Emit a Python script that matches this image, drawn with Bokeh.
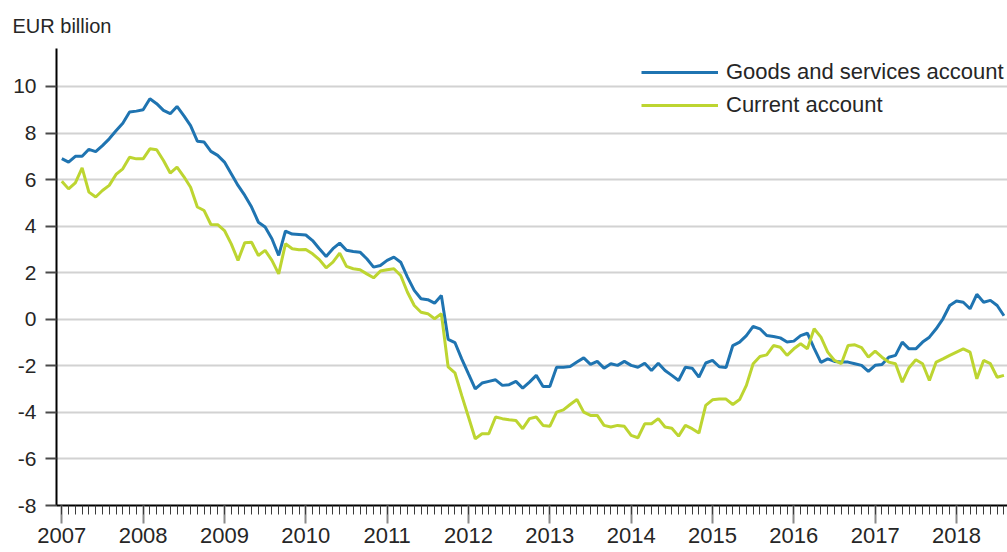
from bokeh.plotting import figure
from bokeh.models import FixedTicker, Legend, LegendItem, Range1d
from bokeh.embed import file_html
from bokeh.resources import INLINE

# ---- data (monthly, Jan 2007 .. Aug 2018), EUR billion, 12-month moving sums ----
start_year = 2007
goods_services = [
    6.9, 6.75, 7.0, 7.0, 7.3, 7.2, 7.46, 7.75, 8.1, 8.42, 8.9, 8.94,
    9.0, 9.47, 9.26, 8.97, 8.83, 9.14, 8.75, 8.32, 7.65, 7.61, 7.21, 7.04,
    6.75, 6.25, 5.75, 5.32, 4.82, 4.17, 3.96, 3.46, 2.74, 3.79, 3.66, 3.64,
    3.62, 3.38, 3.03, 2.7, 3.03, 3.27, 2.96, 2.91, 2.88, 2.6, 2.24, 2.31,
    2.53, 2.67, 2.45, 1.81, 1.24, 0.88, 0.84, 0.69, 1.02, -0.86, -1.0, -1.7,
    -2.35, -2.99, -2.74, -2.67, -2.6, -2.84, -2.81, -2.67, -2.96, -2.7, -2.41, -2.89,
    -2.89, -2.06, -2.06, -2.03, -1.84, -1.66, -1.94, -1.81, -2.1, -1.91, -1.98, -1.81,
    -1.98, -2.06, -1.89, -2.2, -1.89, -2.2, -2.41, -2.63, -2.06, -2.1, -2.49, -1.88,
    -1.77, -2.04, -2.07, -1.13, -0.98, -0.7, -0.31, -0.41, -0.7, -0.74, -0.8, -0.98,
    -0.94, -0.7, -0.6, -1.25, -1.85, -1.7, -1.81, -1.84, -1.84, -1.91, -1.98, -2.24,
    -1.98, -1.94, -1.63, -1.55, -0.98, -1.27, -1.27, -0.98, -0.77, -0.41, 0.02, 0.59,
    0.78, 0.73, 0.45, 1.07, 0.73, 0.81, 0.59, 0.15,
]
current_account = [
    5.93, 5.6, 5.86, 6.5, 5.46, 5.25, 5.53, 5.75, 6.22, 6.46, 6.96, 6.89,
    6.89, 7.32, 7.28, 6.82, 6.28, 6.53, 6.13, 5.67, 4.82, 4.67, 4.07, 4.06,
    3.81, 3.24, 2.53, 3.29, 3.31, 2.74, 2.96, 2.53, 1.95, 3.24, 3.03, 2.99,
    3.0, 2.81, 2.56, 2.21, 2.45, 2.84, 2.27, 2.17, 2.13, 1.95, 1.78, 2.07,
    2.13, 2.17, 1.88, 1.16, 0.59, 0.3, 0.24, 0.02, 0.24, -2.05, -2.3, -3.27,
    -4.2, -5.13, -4.92, -4.92, -4.2, -4.27, -4.32, -4.35, -4.7, -4.27, -4.2, -4.56,
    -4.6, -3.99, -3.89, -3.66, -3.45, -3.99, -4.13, -4.13, -4.56, -4.63, -4.56, -4.6,
    -4.99, -5.09, -4.49, -4.49, -4.27, -4.63, -4.68, -5.02, -4.56, -4.7, -4.89, -3.7,
    -3.46, -3.43, -3.43, -3.66, -3.45, -2.84, -1.91, -1.6, -1.53, -1.13, -1.2, -1.55,
    -1.27, -1.05, -1.27, -0.41, -0.77, -1.41, -1.77, -1.91, -1.13, -1.1, -1.22, -1.63,
    -1.37, -1.63, -1.84, -1.91, -2.7, -2.08, -1.74, -1.91, -2.63, -1.84, -1.7, -1.55,
    -1.41, -1.27, -1.41, -2.56, -1.77, -1.91, -2.49, -2.41,
]
year_labels = [str(y) for y in range(2007, 2019)]
y_ticks = [-8, -6, -4, -2, 0, 2, 4, 6, 8, 10]
y_labels = ["-8", "-6", "-4", "-2", "0", "2", "4", "6", "8", "10"]
series_names = ["Goods and services account", "Current account"]
unit_label = "EUR billion"

BLUE = "#1f74b1"
GREEN = "#bdd531"
FONT = "Liberation Sans"
TXT = "#262626"

months = [start_year + i / 12 for i in range(len(goods_services))]
year_ticks = [int(s) for s in year_labels]
month_ticks = [start_year + i / 12 for i in range(12 * len(year_labels))]

p = figure(width=1007, height=552, output_backend="svg", toolbar_location=None,
           x_range=Range1d(2006.935, 2018.627), y_range=Range1d(-8, 11.63),
           min_border_left=56, min_border_right=0, min_border_top=48,
           min_border_bottom=47, title=unit_label)
p.outline_line_color = None
p.background_fill_color = "white"

p.title.align = "left"
p.title.offset = -44
p.title.vertical_align = "bottom"
p.title.standoff = 23
p.title.text_font = FONT
p.title.text_font_size = "20px"
p.title.text_font_style = "normal"
p.title.text_color = TXT

r1 = p.line(months, goods_services, line_color=BLUE, line_width=3)
r2 = p.line(months, current_account, line_color=GREEN, line_width=3)

# axes
xa = p.xaxis[0]
xa.ticker = FixedTicker(ticks=year_ticks, minor_ticks=month_ticks)
xa.major_label_overrides = {y: s for y, s in zip(year_ticks, year_labels)}
xa.axis_line_color = "black"
xa.axis_line_width = 2
xa.major_tick_line_color = "#8a8a8a"
xa.major_tick_line_width = 2
xa.major_tick_out = 18
xa.major_tick_in = 0
xa.minor_tick_line_color = "#3a3a3a"
xa.minor_tick_line_width = 1
xa.minor_tick_out = 9
xa.minor_tick_in = 0
xa.major_label_text_font = FONT
xa.major_label_text_font_size = "22px"
xa.major_label_text_color = TXT
xa.major_label_standoff = 4

ya = p.yaxis[0]
ya.ticker = FixedTicker(ticks=y_ticks)
ya.major_label_overrides = {t: s for t, s in zip(y_ticks, y_labels)}
ya.axis_line_color = "black"
ya.axis_line_width = 2
ya.major_tick_line_color = "#4a4a4a"
ya.major_tick_line_width = 2
ya.major_tick_out = 11
ya.major_tick_in = 0
ya.minor_tick_line_color = None
ya.major_label_text_font = FONT
ya.major_label_text_font_size = "21px"
ya.major_label_text_color = TXT
ya.major_label_standoff = 9

p.xgrid.grid_line_color = None
p.ygrid.grid_line_color = "#d2d2d2"
p.ygrid.grid_line_width = 2

legend = Legend(items=[LegendItem(label=series_names[0], renderers=[r1]),
                       LegendItem(label=series_names[1], renderers=[r2])],
                location=(585, 387), orientation="vertical",
                border_line_color=None, background_fill_alpha=0,
                padding=0, margin=0, spacing=7, glyph_width=77, glyph_height=20,
                label_standoff=8, label_text_font=FONT,
                label_text_font_size="22px", label_text_color=TXT)
p.add_layout(legend)

open("out.html", "w").write(file_html(p, INLINE))
